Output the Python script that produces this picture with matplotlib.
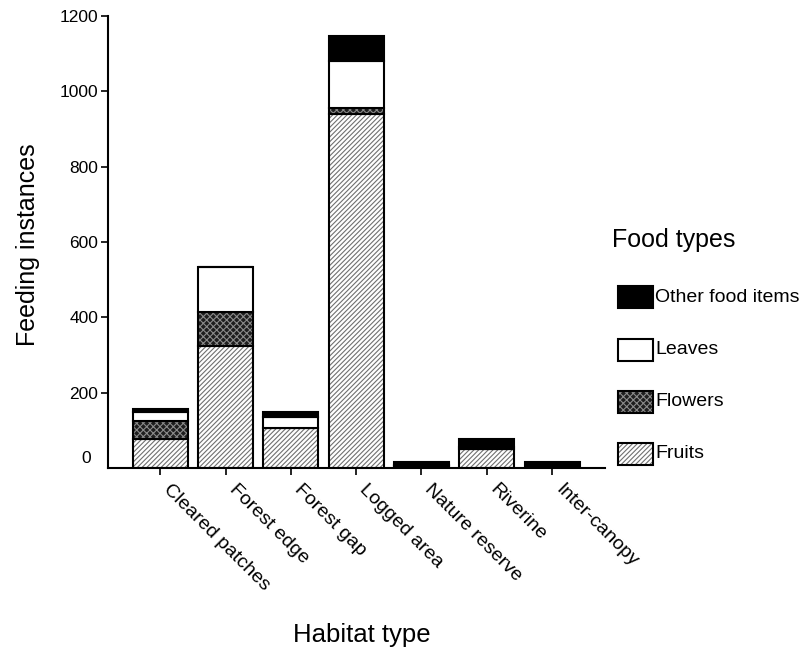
import matplotlib
matplotlib.use("Agg")
import matplotlib.pyplot as plt
import matplotlib.transforms as mtransforms
import numpy as np

plt.rcParams['font.family'] = ['Liberation Sans', 'DejaVu Sans']
plt.rcParams['hatch.linewidth'] = 0.8

habitats = ["Cleared patches", "Forest edge", "Forest gap", "Logged area",
            "Nature reserve", "Riverine", "Inter-canopy"]
fruits = [77, 324, 107, 939, 6, 50, 0]
flowers = [48, 90, 0, 16, 0, 0, 0]
leaves = [23, 119, 28, 126, 1, 7, 0]
other = [9, 0, 13, 67, 8, 20, 17]
yticks = [200, 400, 600, 800, 1000, 1200]

fig = plt.figure(figsize=(8.02, 6.49), dpi=100)
ax = fig.add_axes([108/802, 1-468/649, (605-108)/802, (468-16)/649])

x = np.arange(len(habitats))
w = 0.84
f = np.array(fruits); fl = np.array(flowers); lv = np.array(leaves); ot = np.array(other)

FRUIT_HATCH = '///////'
FLOWER_HATCH = 'xxxxx'
# fruits: white with gray diagonal hatch
ax.bar(x, f, w, color='white', edgecolor='#707070', hatch=FRUIT_HATCH, linewidth=0)
ax.bar(x, f, w, fill=False, edgecolor='black', linewidth=1.5)
# flowers: dark dotted pattern
ax.bar(x, fl, w, bottom=f, color='#1e1e1e', edgecolor='#8a8a8a', hatch=FLOWER_HATCH, linewidth=0)
ax.bar(x, fl, w, bottom=f, fill=False, edgecolor='black', linewidth=1.5)
# leaves: white
ax.bar(x, lv, w, bottom=f+fl, color='white', edgecolor='black', linewidth=1.5)
# other: black
ax.bar(x, ot, w, bottom=f+fl+lv, color='black', edgecolor='black', linewidth=1.5)

ax.set_ylim(0, 1200)
ax.set_xlim(-0.80, 6.81)
ax.spines['top'].set_visible(False)
ax.spines['right'].set_visible(False)
ax.spines['left'].set_linewidth(1.5)
ax.spines['bottom'].set_linewidth(1.5)
ax.set_yticks(yticks)
ax.set_yticklabels([str(v) for v in yticks], fontsize=12.5)
ax.tick_params(axis='y', length=5, width=1.2, pad=2)
ax.tick_params(axis='x', length=5, width=1.2, pad=4)
ax.text(-0.035, 25, "0", transform=mtransforms.blended_transform_factory(ax.transAxes, ax.transData),
        ha='right', va='center', fontsize=12.5)
ax.set_xticks(x)
ax.set_xticklabels(habitats, rotation=-45, ha='left', va='top', rotation_mode='anchor', fontsize=14)
for lbl in ax.get_xticklabels():
    lbl.set_transform(lbl.get_transform() + mtransforms.ScaledTranslation(0.12, 0.0, fig.dpi_scale_trans))

fig.text(28/802, 1-245/649, "Feeding instances", rotation=90, ha='center', va='center', fontsize=18)
fig.text(362/802, 1-635/649, "Habitat type", ha='center', va='center', fontsize=18.5)

# legend
fig.text(612/802, 1-240/649, "Food types", ha='left', va='center', fontsize=18)
entries = [("Other food items", dict(facecolor='black', edgecolor='black')),
           ("Leaves", dict(facecolor='white', edgecolor='black')),
           ("Flowers", None),
           ("Fruits", None)]
ys = [297, 350, 402, 454]
for (name, kw), yc in zip(entries, ys):
    xy = (618/802, 1-(yc+11)/649)
    ww, hh = 35/802, 22/649
    R = matplotlib.patches.Rectangle
    if name == "Flowers":
        fig.patches.append(R(xy, ww, hh, transform=fig.transFigure, facecolor='#1e1e1e',
                             edgecolor='#8a8a8a', hatch=FLOWER_HATCH, linewidth=0))
        fig.patches.append(R(xy, ww, hh, transform=fig.transFigure, fill=False,
                             edgecolor='black', linewidth=1.5))
    elif name == "Fruits":
        fig.patches.append(R(xy, ww, hh, transform=fig.transFigure, facecolor='white',
                             edgecolor='#707070', hatch=FRUIT_HATCH, linewidth=0))
        fig.patches.append(R(xy, ww, hh, transform=fig.transFigure, fill=False,
                             edgecolor='black', linewidth=1.5))
    else:
        fig.patches.append(R(xy, ww, hh, transform=fig.transFigure, linewidth=1.5, **kw))
    fig.text(655/802, 1-yc/649, name, ha='left', va='center', fontsize=14)

fig.savefig("out.png", dpi=100)
